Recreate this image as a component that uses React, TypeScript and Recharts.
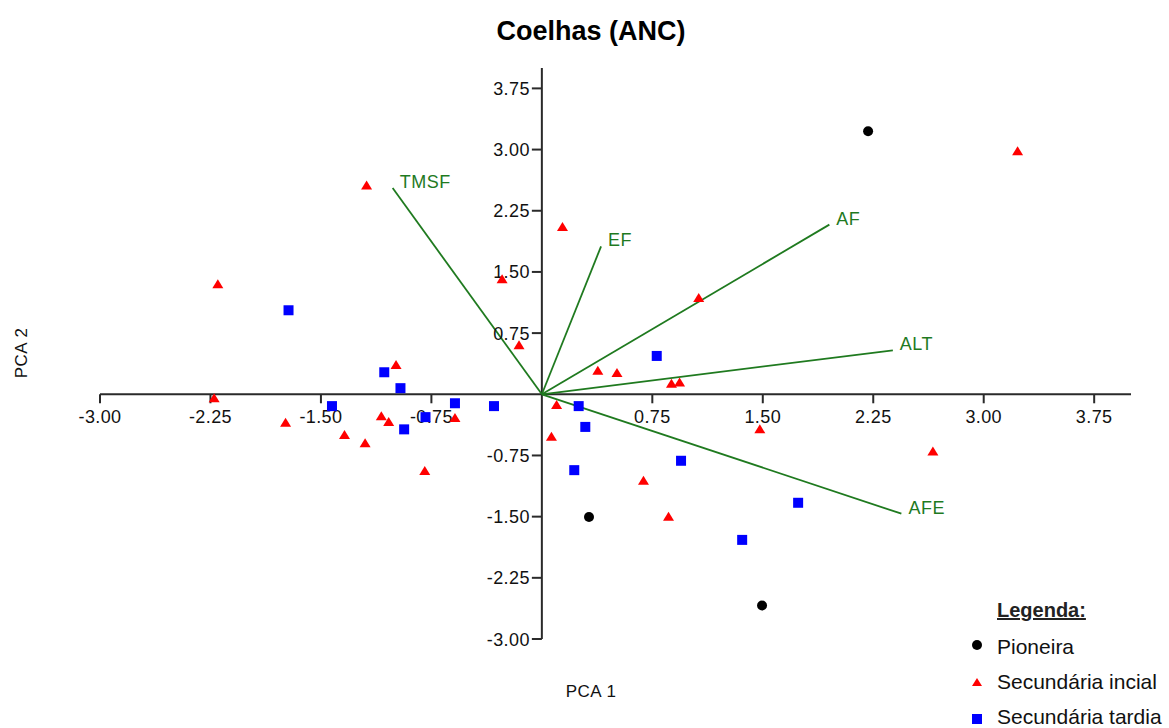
import { ScatterChart, Scatter, XAxis, YAxis, ReferenceLine, ReferenceDot } from 'recharts'

// ── Data ─────────────────────────────────────────────────────────────────────

const xTicks = [-3, -2.25, -1.5, -0.75, 0.75, 1.5, 2.25, 3, 3.75]
const xTickLabels = ['-3.00', '-2.25', '-1.50', '-0.75', '0.75', '1.50', '2.25', '3.00', '3.75']
const yTicks = [-3, -2.25, -1.5, -0.75, 0.75, 1.5, 2.25, 3, 3.75]
const yTickLabels = ['-3.00', '-2.25', '-1.50', '-0.75', '0.75', '1.50', '2.25', '3.00', '3.75']

const pioneira = [
  { x: 2.215, y: 3.225 },
  { x: 0.32, y: -1.505 },
  { x: 1.495, y: -2.59 },
]

const secundariaInicial = [
  { x: -1.19, y: 2.56 },
  { x: 3.23, y: 2.98 },
  { x: 0.14, y: 2.05 },
  { x: -2.2, y: 1.35 },
  { x: -0.27, y: 1.41 },
  { x: 1.065, y: 1.18 },
  { x: -0.155, y: 0.6 },
  { x: -0.99, y: 0.36 },
  { x: 0.38, y: 0.29 },
  { x: 0.51, y: 0.26 },
  { x: 0.88, y: 0.13 },
  { x: 0.935, y: 0.145 },
  { x: -2.225, y: -0.05 },
  { x: -1.74, y: -0.35 },
  { x: -1.09, y: -0.27 },
  { x: -1.04, y: -0.34 },
  { x: -0.59, y: -0.29 },
  { x: -1.34, y: -0.5 },
  { x: -1.2, y: -0.6 },
  { x: -0.795, y: -0.94 },
  { x: 0.1, y: -0.13 },
  { x: 0.065, y: -0.52 },
  { x: 1.48, y: -0.43 },
  { x: 2.655, y: -0.7 },
  { x: 0.69, y: -1.06 },
  { x: 0.86, y: -1.5 },
]

const secundariaTardia = [
  { x: -1.72, y: 1.03 },
  { x: -1.07, y: 0.27 },
  { x: -0.96, y: 0.075 },
  { x: -1.425, y: -0.145 },
  { x: -0.79, y: -0.28 },
  { x: -0.935, y: -0.43 },
  { x: -0.59, y: -0.11 },
  { x: -0.325, y: -0.145 },
  { x: 0.25, y: -0.145 },
  { x: 0.295, y: -0.4 },
  { x: 0.22, y: -0.93 },
  { x: 0.78, y: 0.47 },
  { x: 0.945, y: -0.815 },
  { x: 1.74, y: -1.33 },
  { x: 1.36, y: -1.785 },
]

// loading vectors (end points, from origin)
const vectors = [
  { name: 'TMSF', x: -1.013, y: 2.528 },
  { name: 'EF', x: 0.402, y: 1.814 },
  { name: 'AF', x: 1.952, y: 2.08 },
  { name: 'ALT', x: 2.383, y: 0.539 },
  { name: 'AFE', x: 2.441, y: -1.464 },
]

// ── Styles ───────────────────────────────────────────────────────────────────

const FONT = '"Liberation Sans", Arial, sans-serif'
const AXIS = '#2a2a2a'
const GREEN = '#1f7a1f'
const TEXT = '#111'

// ── Shapes ───────────────────────────────────────────────────────────────────

const xTickShape = (label: string) => (props: any) => {
  const { cx, cy } = props
  return (
    <g>
      <line x1={cx} y1={cy} x2={cx} y2={cy + 9} stroke={AXIS} strokeWidth={2} />
      <text x={cx} y={cy + 29} textAnchor="middle" fontSize={18} fontFamily={FONT} fill={TEXT} letterSpacing={0.4}>
        {label}
      </text>
    </g>
  )
}

const yTickShape = (label: string) => (props: any) => {
  const { cx, cy } = props
  return (
    <g>
      <line x1={cx - 10} y1={cy} x2={cx} y2={cy} stroke={AXIS} strokeWidth={2} />
      <text x={cx - 12} y={cy + 6.5} textAnchor="end" fontSize={18} fontFamily={FONT} fill={TEXT} letterSpacing={0.4}>
        {label}
      </text>
    </g>
  )
}

const vectorLabelShape = (name: string) => (props: any) => (
  <text x={props.cx + 7} y={props.cy} fontSize={18} fontFamily={FONT} fill={GREEN} letterSpacing={0.5}>
    {name}
  </text>
)

const CircleMark = (props: any) => <circle cx={props.cx} cy={props.cy} r={5} fill="#000" />

const SquareMark = (props: any) => (
  <rect x={props.cx - 5} y={props.cy - 5} width={10} height={10} fill="#0000ff" />
)

const TriangleMark = (props: any) => {
  const { cx, cy } = props
  return <polygon points={`${cx},${cy - 5} ${cx + 5.5},${cy + 4} ${cx - 5.5},${cy + 4}`} fill="#ff0000" />
}

// ── Component ────────────────────────────────────────────────────────────────

export default function App() {
  return (
    <div style={{ position: 'absolute', left: 0, top: 0, width: 1169, height: 728, background: '#fff' }}>
      <ScatterChart width={1169} height={728} margin={{ top: 68, right: 38, bottom: 89, left: 100 }}>
        <XAxis type="number" dataKey="x" domain={[-3, 4]} ticks={xTicks} allowDataOverflow hide />
        <YAxis type="number" dataKey="y" domain={[-3, 4]} ticks={yTicks} allowDataOverflow hide />

        <ReferenceLine y={0} stroke={AXIS} strokeWidth={2} ifOverflow="visible" />
        <ReferenceLine x={0} stroke={AXIS} strokeWidth={2} ifOverflow="visible" />

        {xTicks.map((v, i) => (
          <ReferenceDot key={'xt' + v} x={v} y={0} r={0} ifOverflow="visible" shape={xTickShape(xTickLabels[i])} />
        ))}
        {yTicks.map((v, i) => (
          <ReferenceDot key={'yt' + v} x={0} y={v} r={0} ifOverflow="visible" shape={yTickShape(yTickLabels[i])} />
        ))}

        {vectors.map((v) => (
          <ReferenceLine
            key={v.name}
            segment={[{ x: 0, y: 0 }, { x: v.x, y: v.y }]}
            stroke={GREEN}
            strokeWidth={1.8}
            ifOverflow="visible"
          />
        ))}
        {vectors.map((v) => (
          <ReferenceDot key={'vl' + v.name} x={v.x} y={v.y} r={0} ifOverflow="visible" shape={vectorLabelShape(v.name)} />
        ))}

        <Scatter name="Pioneira" data={pioneira} shape={CircleMark} isAnimationActive={false} />
        <Scatter name="Secundária incial" data={secundariaInicial} shape={TriangleMark} isAnimationActive={false} />
        <Scatter name="Secundária tardia" data={secundariaTardia} shape={SquareMark} isAnimationActive={false} />
      </ScatterChart>

      {/* titles + legend */}
      <svg
        width={1169}
        height={728}
        style={{ position: 'absolute', left: 0, top: 0, pointerEvents: 'none' }}
        fontFamily={FONT}
      >
        <text x={591} y={40} textAnchor="middle" fontSize={27} fontWeight="bold" fill="#000">
          Coelhas (ANC)
        </text>
        <text x={591} y={697} textAnchor="middle" fontSize={17} fill={TEXT} letterSpacing={0.5}>
          PCA 1
        </text>
        <text
          x={27}
          y={353}
          textAnchor="middle"
          fontSize={17}
          fill={TEXT}
          letterSpacing={0.5}
          transform="rotate(-90 27 353)"
        >
          PCA 2
        </text>

        <text x={997} y={617} fontSize={20} fontWeight="bold" fill="#222" textDecoration="underline">
          Legenda:
        </text>
        <circle cx={977} cy={645} r={5} fill="#000" />
        <text x={997} y={654} fontSize={21} fill={TEXT}>
          Pioneira
        </text>
        <polygon points="977,678 982,686 972,686" fill="#ff0000" />
        <text x={997} y={689} fontSize={21} fill={TEXT}>
          Secundária incial
        </text>
        <rect x={972} y={714} width={10} height={10} fill="#0000ff" />
        <text x={997} y={724} fontSize={21} fill={TEXT}>
          Secundária tardia
        </text>
      </svg>
    </div>
  )
}
